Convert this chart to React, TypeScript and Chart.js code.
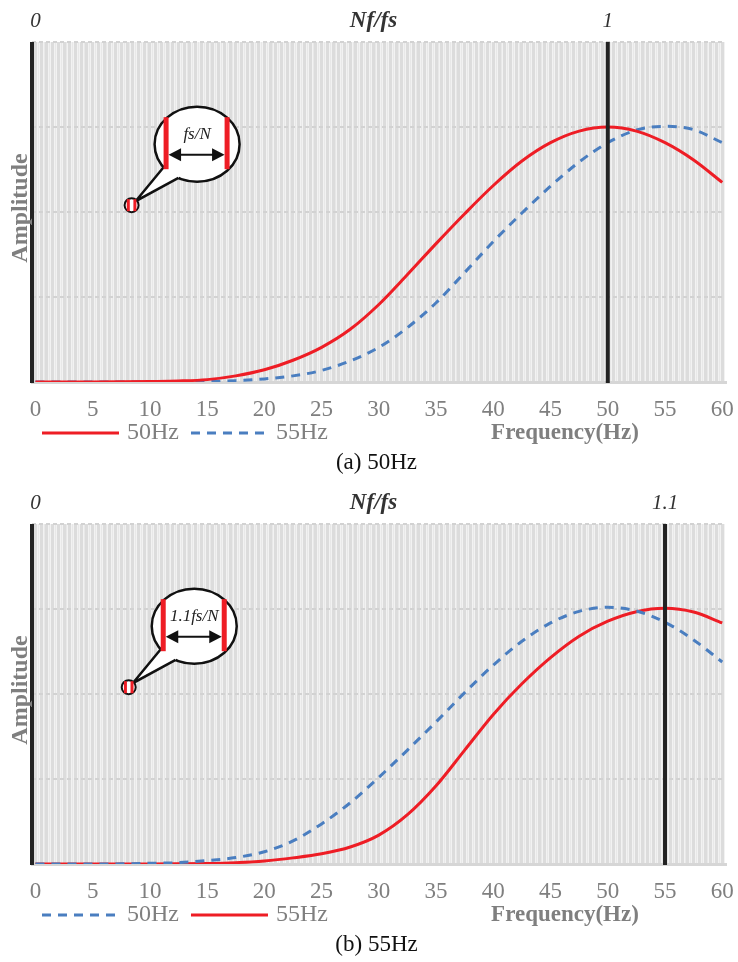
import React, { useEffect, useRef } from 'react';
import { Chart, registerables } from 'chart.js';

Chart.register(...registerables);

const SERIF = "'Liberation Serif', 'Times New Roman', serif";

// Frequencies (Hz) at which the curves were read
const frequencies = [0, 2.5, 5, 7.5, 10, 12.5, 15, 17.5, 20, 22.5, 25, 27.5, 30, 32.5, 35, 37.5, 40, 42.5, 45, 47.5, 50, 52.5, 55, 57.5, 60];

// Panel (a)
const panelA_50Hz = [0, 0, 0, 0.0005, 0.0015, 0.003, 0.007, 0.018, 0.036, 0.064, 0.102, 0.155, 0.228, 0.316, 0.407, 0.495, 0.578, 0.65, 0.704, 0.738, 0.75, 0.738, 0.704, 0.653, 0.587];
const panelA_55Hz = [0, 0, 0, 0, 0.0002, 0.0005, 0.0015, 0.004, 0.009, 0.018, 0.034, 0.062, 0.102, 0.16, 0.233, 0.322, 0.413, 0.497, 0.576, 0.647, 0.704, 0.741, 0.752, 0.742, 0.704];

// Panel (b)
const panelB_50Hz = [0, 0, 0, 0.0005, 0.002, 0.004, 0.01, 0.019, 0.036, 0.068, 0.118, 0.18, 0.255, 0.335, 0.418, 0.504, 0.585, 0.655, 0.709, 0.743, 0.755, 0.744, 0.711, 0.659, 0.594];
const panelB_55Hz = [0, 0, 0, 0, 0, 0.0005, 0.0015, 0.004, 0.009, 0.018, 0.03, 0.05, 0.085, 0.145, 0.23, 0.335, 0.44, 0.53, 0.607, 0.67, 0.714, 0.742, 0.752, 0.741, 0.709];

const xTickValues = [0, 5, 10, 15, 20, 25, 30, 35, 40, 45, 50, 55, 60];
const xTickLabels = ['0', '5', '10', '15', '20', '25', '30', '35', '40', '45', '50', '55', '60'];
const yGridValues = [0, 0.25, 0.5, 0.75, 1];

const topValuesA = [0, 50];
const topLabelsA = ['0', '1'];
const topValuesB = [0, 55];
const topLabelsB = ['0', '1.1'];
const topAxisTitle = 'Nf/fs';
const markerA = 50;
const markerB = 55;
const xTitle = 'Frequency(Hz)';
const yTitle = 'Amplitude';
const captionA = '(a) 50Hz';
const captionB = '(b) 55Hz';
const calloutTextA = 'fs/N';
const calloutTextB = '1.1fs/N';
const legendLabels = ['50Hz', '55Hz'];

const RED = '#ee1d25';
const BLUE = '#4a7ec0';
const GRAY_TEXT = '#7f7f7f';

const TICK_SIZE = 23;
const TICK_PAD = 14;

// fine vertical stripes every 0.25 Hz
const stripeValues: number[] = [];
for (let i = 0; i <= 240; i++) stripeValues.push(i * 0.25);

type Series = { label: string; data: number[]; color: string; dash: number[] };
type Spec = {
  series: Series[];
  topValues: number[];
  topLabels: string[];
  marker: number;
  caption: string;
  callout: { text: string; f: number; amp: number };
  height: number;
};

function drawCallout(ctx: CanvasRenderingContext2D, ax: number, ay: number, text: string) {
  const cx = ax + 65.5, cy = ay - 61, rx = 42.5, ry = 37.5;
  const a1 = (116 * Math.PI) / 180, a2 = (142 * Math.PI) / 180;
  const p1 = [cx + rx * Math.cos(a1), cy + ry * Math.sin(a1)];
  const p2 = [cx + rx * Math.cos(a2), cy + ry * Math.sin(a2)];
  const i1 = [cx + 0.8 * rx * Math.cos(a1), cy + 0.8 * ry * Math.sin(a1)];
  const i2 = [cx + 0.8 * rx * Math.cos(a2), cy + 0.8 * ry * Math.sin(a2)];
  const tip = [ax + 4, ay - 4];
  ctx.save();
  ctx.lineWidth = 2.5;
  ctx.strokeStyle = '#111';
  ctx.fillStyle = '#fff';
  ctx.beginPath();
  ctx.ellipse(cx, cy, rx, ry, 0, 0, Math.PI * 2);
  ctx.fill();
  ctx.stroke();
  ctx.beginPath();
  ctx.moveTo(i1[0], i1[1]);
  ctx.lineTo(p1[0], p1[1]);
  ctx.lineTo(tip[0], tip[1]);
  ctx.lineTo(p2[0], p2[1]);
  ctx.lineTo(i2[0], i2[1]);
  ctx.closePath();
  ctx.fill();
  ctx.beginPath();
  ctx.moveTo(p1[0], p1[1]);
  ctx.lineTo(tip[0], tip[1]);
  ctx.lineTo(p2[0], p2[1]);
  ctx.stroke();
  // red bars
  ctx.fillStyle = RED;
  ctx.fillRect(cx - 31 - 2.5, cy - 27, 5, 52);
  ctx.fillRect(cx + 30 - 2.5, cy - 27, 5, 52);
  // double arrow
  const ay2 = cy + 10.5;
  ctx.strokeStyle = '#111';
  ctx.fillStyle = '#111';
  ctx.lineWidth = 2;
  ctx.beginPath();
  ctx.moveTo(cx - 20, ay2);
  ctx.lineTo(cx + 20, ay2);
  ctx.stroke();
  ctx.beginPath();
  ctx.moveTo(cx - 28.5, ay2);
  ctx.lineTo(cx - 16, ay2 - 6.5);
  ctx.lineTo(cx - 16, ay2 + 6.5);
  ctx.closePath();
  ctx.fill();
  ctx.beginPath();
  ctx.moveTo(cx + 27.5, ay2);
  ctx.lineTo(cx + 15, ay2 - 6.5);
  ctx.lineTo(cx + 15, ay2 + 6.5);
  ctx.closePath();
  ctx.fill();
  // text
  ctx.font = `italic 17px ${SERIF}`;
  ctx.textAlign = 'center';
  ctx.textBaseline = 'middle';
  ctx.fillStyle = '#222';
  ctx.fillText(text, cx, cy - 10);
  // small circle at anchor
  ctx.fillStyle = '#fff';
  ctx.strokeStyle = '#111';
  ctx.lineWidth = 2;
  ctx.beginPath();
  ctx.arc(ax, ay, 7, 0, Math.PI * 2);
  ctx.fill();
  ctx.stroke();
  ctx.fillStyle = RED;
  ctx.fillRect(ax - 3.3 - 1.5, ay - 6, 3, 12);
  ctx.fillRect(ax + 3.3 - 1.5, ay - 6, 3, 12);
  ctx.restore();
}

function makeDecor(spec: Spec) {
  return {
    id: 'decor',
    beforeDraw(chart: any) {
      const { ctx, chartArea: a } = chart;
      ctx.save();
      ctx.fillStyle = '#f2f2f2';
      ctx.fillRect(a.left, a.top, a.right - a.left, a.bottom - a.top);
      ctx.restore();
    },
    afterDatasetsDraw(chart: any) {
      const { ctx, chartArea: a, scales } = chart;
      const x = scales.x;
      ctx.save();
      ctx.strokeStyle = '#222';
      ctx.lineWidth = 4;
      ctx.beginPath();
      ctx.moveTo(a.left, a.top);
      ctx.lineTo(a.left, a.bottom + 1);
      ctx.stroke();
      const mx = x.getPixelForValue(spec.marker);
      ctx.beginPath();
      ctx.moveTo(mx, a.top);
      ctx.lineTo(mx, a.bottom + 1);
      ctx.stroke();
      ctx.restore();
    },
    afterDraw(chart: any) {
      const { ctx, chartArea: a, scales } = chart;
      const x = scales.x;
      const y = scales.y;
      const midX = (a.left + a.right) / 2;
      ctx.save();
      ctx.textBaseline = 'middle';
      ctx.textAlign = 'center';
      // top axis labels
      ctx.fillStyle = '#333';
      ctx.font = `italic 21px ${SERIF}`;
      spec.topValues.forEach((v, i) => ctx.fillText(spec.topLabels[i], x.getPixelForValue(v), 21));
      ctx.font = `bold italic 23px ${SERIF}`;
      ctx.fillText(topAxisTitle, midX - 5, 21);
      // y title
      ctx.save();
      ctx.translate(21, (a.top + a.bottom) / 2 - 4);
      ctx.rotate(-Math.PI / 2);
      ctx.fillStyle = GRAY_TEXT;
      ctx.font = `bold 24px ${SERIF}`;
      ctx.fillText(yTitle, 0, 0);
      ctx.restore();
      // legend
      const ly = 433;
      let lx = 42;
      ctx.font = `24px ${SERIF}`;
      chart.data.datasets.forEach((ds: any) => {
        ctx.save();
        ctx.strokeStyle = ds.borderColor;
        ctx.lineWidth = 3;
        ctx.setLineDash(ds.borderDash || []);
        ctx.beginPath();
        ctx.moveTo(lx, ly);
        ctx.lineTo(lx + 77, ly);
        ctx.stroke();
        ctx.restore();
        ctx.textAlign = 'left';
        ctx.fillStyle = GRAY_TEXT;
        ctx.fillText(ds.label, lx + 85, ly);
        lx = lx + 85 + ctx.measureText(ds.label).width + 12;
      });
      // x title
      ctx.textAlign = 'center';
      ctx.font = `bold 23px ${SERIF}`;
      ctx.fillStyle = GRAY_TEXT;
      ctx.fillText(xTitle, a.right - 160, ly);
      // caption
      ctx.font = `23px ${SERIF}`;
      ctx.fillStyle = '#111';
      ctx.fillText(spec.caption, midX - 2, 463);
      ctx.restore();
      // callout
      drawCallout(ctx, x.getPixelForValue(spec.callout.f), y.getPixelForValue(spec.callout.amp), spec.callout.text);
    },
  };
}

function makeConfig(spec: Spec): any {
  const axisHeight = TICK_SIZE * 1.2 + TICK_PAD * 2;
  return {
    type: 'line',
    data: {
      datasets: spec.series.map((s) => ({
        label: s.label,
        data: frequencies.map((f, i) => ({ x: f, y: s.data[i] })),
        borderColor: s.color,
        backgroundColor: s.color,
        borderWidth: 3,
        borderDash: s.dash,
        pointRadius: 0,
        cubicInterpolationMode: 'monotone',
        fill: false,
      })),
    },
    options: {
      responsive: false,
      maintainAspectRatio: false,
      animation: false,
      events: [],
      layout: { padding: { left: 32, right: 13, top: 42, bottom: spec.height - 382 - axisHeight } },
      plugins: { legend: { display: false }, tooltip: { enabled: false }, title: { display: false } },
      scales: {
        x: {
          type: 'linear',
          min: -0.3,
          max: 60.24,
          afterBuildTicks: (s: any) => {
            s.ticks = stripeValues.map((v) => ({ value: v }));
          },
          afterFit: (s: any) => {
            s.paddingLeft = 0;
            s.paddingRight = 0;
          },
          ticks: {
            autoSkip: false,
            maxRotation: 0,
            minRotation: 0,
            padding: TICK_PAD,
            color: GRAY_TEXT,
            font: { family: SERIF, size: TICK_SIZE },
            callback: (v: number) => {
              const i = xTickValues.indexOf(v);
              return i >= 0 ? xTickLabels[i] : '';
            },
          },
          grid: {
            drawTicks: false,
            color: (c: any) => (c.tick && c.tick.value % 0.5 === 0 ? '#dcdcdc' : '#e8e8e8'),
            lineWidth: (c: any) => (c.tick && c.tick.value % 0.5 === 0 ? 3 : 1),
          },
          border: { display: true, color: '#d6d6d6', width: 3 },
        },
        y: {
          type: 'linear',
          min: 0,
          max: 1,
          afterBuildTicks: (s: any) => {
            s.ticks = yGridValues.map((v) => ({ value: v }));
          },
          afterFit: (s: any) => {
            s.paddingTop = 0;
            s.paddingBottom = 0;
          },
          ticks: { display: false },
          grid: {
            drawTicks: false,
            color: (c: any) => (c.tick && c.tick.value === 0 ? 'rgba(0,0,0,0)' : '#d2d2d2'),
            lineWidth: 2,
          },
          border: { display: false, dash: [4, 3] },
        },
      },
    },
    plugins: [makeDecor(spec)],
  };
}

const specA: Spec = {
  series: [
    { label: legendLabels[0], data: panelA_50Hz, color: RED, dash: [] },
    { label: legendLabels[1], data: panelA_55Hz, color: BLUE, dash: [9, 7] },
  ],
  topValues: topValuesA,
  topLabels: topLabelsA,
  marker: markerA,
  caption: captionA,
  callout: { text: calloutTextA, f: 8.4, amp: 0.52 },
  height: 482,
};

const specB: Spec = {
  series: [
    { label: legendLabels[0], data: panelB_50Hz, color: BLUE, dash: [9, 7] },
    { label: legendLabels[1], data: panelB_55Hz, color: RED, dash: [] },
  ],
  topValues: topValuesB,
  topLabels: topLabelsB,
  marker: markerB,
  caption: captionB,
  callout: { text: calloutTextB, f: 8.15, amp: 0.52 },
  height: 480,
};

function Panel({ spec }: { spec: Spec }) {
  const ref = useRef<HTMLCanvasElement>(null);
  useEffect(() => {
    const chart = new Chart(ref.current as HTMLCanvasElement, makeConfig(spec));
    return () => chart.destroy();
  }, [spec]);
  return <canvas ref={ref} width={738} height={spec.height} style={{ display: 'block', width: 738, height: spec.height }} />;
}

export default function App() {
  return (
    <div style={{ width: 738, background: '#fff' }}>
      <style>{'body{margin:0;background:#fff}'}</style>
      <Panel spec={specA} />
      <Panel spec={specB} />
    </div>
  );
}
